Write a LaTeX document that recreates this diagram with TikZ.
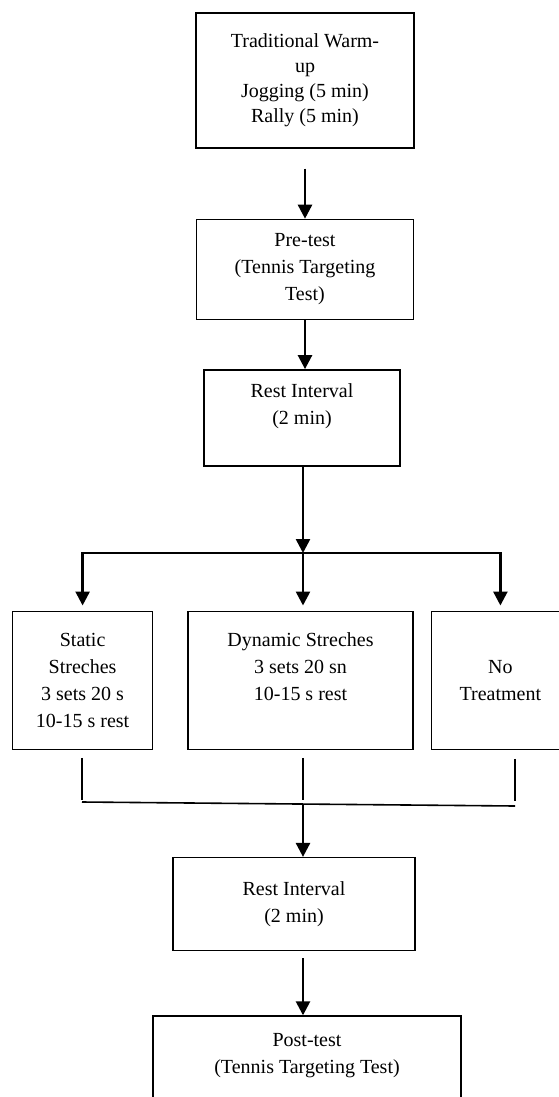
\documentclass[tikz,border=0pt]{standalone}
\usepackage{fontspec}
\setmainfont{Liberation Serif}
\usetikzlibrary{positioning, arrows.meta, calc}

\begin{document}
\begin{tikzpicture}[x=1pt, y=-1pt]
	\tikzstyle{process} = [rectangle, inner sep=0pt, align=center, 
	draw=black, line width=1.4pt, font=\fontsize{20}{27}\selectfont]
	\tikzstyle{arrow} = [line width=2.6pt, -{Triangle[width=14pt,length=14pt]}]
	\tikzstyle{link} = [line width=1.6pt]
	\useasboundingbox (0,0) rectangle (558,1097);
	\node (warmUp) [process, minimum width=218pt, minimum height=135pt, font=\fontsize{20}{25}\selectfont] at (305,80.5) {Traditional Warm-\\up\\Jogging (5 min)\\Rally (5 min)};
	\node (preTest) [process, below=70pt of warmUp, minimum width=217pt, minimum height=100pt] {Pre-test\\(Tennis Targeting\\Test)};
	\node (restOne) [process, below=49pt of preTest, xshift=-3pt, minimum width=196pt, minimum height=96pt] {Rest Interval\\(2 min)\\\mbox{}};
	\node (dynamicStretch) [process, below=144pt of restOne, xshift=-1.5pt, minimum width=225pt, minimum height=138pt] {Dynamic Streches\\3 sets 20 sn\\10-15 s rest\\\mbox{}};
	\node (staticStretch) [process, left=34pt of dynamicStretch, minimum width=140pt, minimum height=138pt] {Static\\Streches\\3 sets 20 s\\10-15 s rest};
	\node (noTreatment) [process, right=17pt of dynamicStretch, minimum width=138pt, minimum height=138pt] {No\\Treatment};
	\node (restTwo) [process, below=107pt of dynamicStretch, xshift=-6.5pt, minimum width=242pt, minimum height=93pt] {Rest Interval\\(2 min)};
	\node (postTest) [process, below=64pt of restTwo, xshift=13pt, minimum width=308pt, minimum height=129pt] {Post-test\\(Tennis Targeting Test)\\\mbox{}\\\mbox{}};
	\coordinate (split) at (303,553);
	\coordinate (joinL) at (82,802);
	\coordinate (joinR) at (515,806);
	\coordinate (join) at (303,804);
	\draw [arrow] ([yshift=-20pt]warmUp.south) -- (preTest.north);
	\draw [arrow] (preTest.south) -- (preTest.south |- restOne.north);
	\draw [arrow] (restOne.south -| split) -- (split);
	\draw [arrow, shorten >=5pt] (split) -| (staticStretch.north);
	\draw [arrow, shorten >=5pt] (split) -| (noTreatment.north);
	\draw [arrow, shorten >=5pt] (split) -- (split |- dynamicStretch.north);
	\draw [link] (staticStretch.south -| joinL) ++(0,8) -- ++(0,42);
	\draw [link] (dynamicStretch.south -| join) ++(0,8) -- ++(0,42);
	\draw [link] (noTreatment.south -| joinR) ++(0,9) -- ++(0,42);
	\draw [link] (joinL) -- (joinR);
	\draw [arrow] (join) -- (join |- restTwo.north);
	\draw [arrow] ($(restTwo.south -| join)+(0,7)$) -- (postTest.north -| join);
\end{tikzpicture}
\end{document}
